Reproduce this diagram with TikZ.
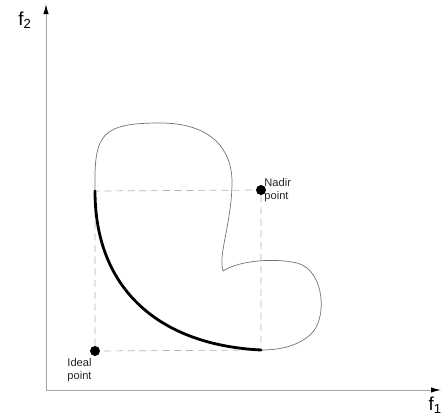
\documentclass[tikz,border=0pt]{standalone}
\usepackage{fontspec}
\setmainfont{Liberation Sans}
\usetikzlibrary{positioning,arrows.meta}

\begin{document}
\begin{tikzpicture}[
x=0.03cm,
y=-0.03cm,
axis/.style={
draw=black!35,
line width=0.8pt,
-{Latex[length=3mm,width=1.6mm,color=black]}
},
guide/.style={
draw=black!30,
dash pattern=on 6pt off 4pt,
line width=0.6pt
},
dot/.style={
circle,
fill=black,
inner sep=0pt,
minimum size=0.3cm
},
lbl/.style={
font=\fontsize{9.5}{11}\selectfont,
align=left,
text=black!85,
inner sep=1pt
},
front/.style={
line width=2.4pt,
line cap=round
},
region/.style={
draw=black!55,
line width=0.6pt
}
]

\useasboundingbox (0,0) rectangle (442,419);


% axes
\coordinate (origin) at (46,390);
\coordinate (xend) at (441,390);
\coordinate (yend) at (46,4);

\draw[axis] (origin)--(xend);
\draw[axis] (origin)--(yend);

\node[font=\fontsize{16}{18}\selectfont] (f2) at (25,20) {f\textsubscript{2}};
\node[font=\fontsize{16}{18}\selectfont,anchor=east,inner sep=0pt] (f1) at (442,405) {f\textsubscript{1}};


% points
\node[dot] (ideal) at (95,351) {};
\node[dot] (nadir) at (261,190) {};

\coordinate (tl) at (95,191);
\coordinate (br) at (261,350);

\node[lbl,anchor=north west] (ideallbl) at (66,357) {Ideal\\point};
\node[lbl,anchor=north west] (nadirlbl) at (263,177) {Nadir\\point};


% box
\draw[guide] (ideal)--(tl)--(nadir)--(br)--(ideal);


% feasible region
\draw[region] (tl)
.. controls (94,135) and (100,123) .. (160,123)
.. controls (210,123) and (233,148) .. (232,185)
.. controls (231,225) and (218,255) .. (223,271)
.. controls (240,260) and (275,258) .. (297,263)
.. controls (325,270) and (328,320) .. (310,335)
.. controls (295,348) and (275,350) .. (br);


% pareto front
\draw[front] (tl) .. controls (95,290) and (160,345) .. (br);


\end{tikzpicture}
\end{document}
